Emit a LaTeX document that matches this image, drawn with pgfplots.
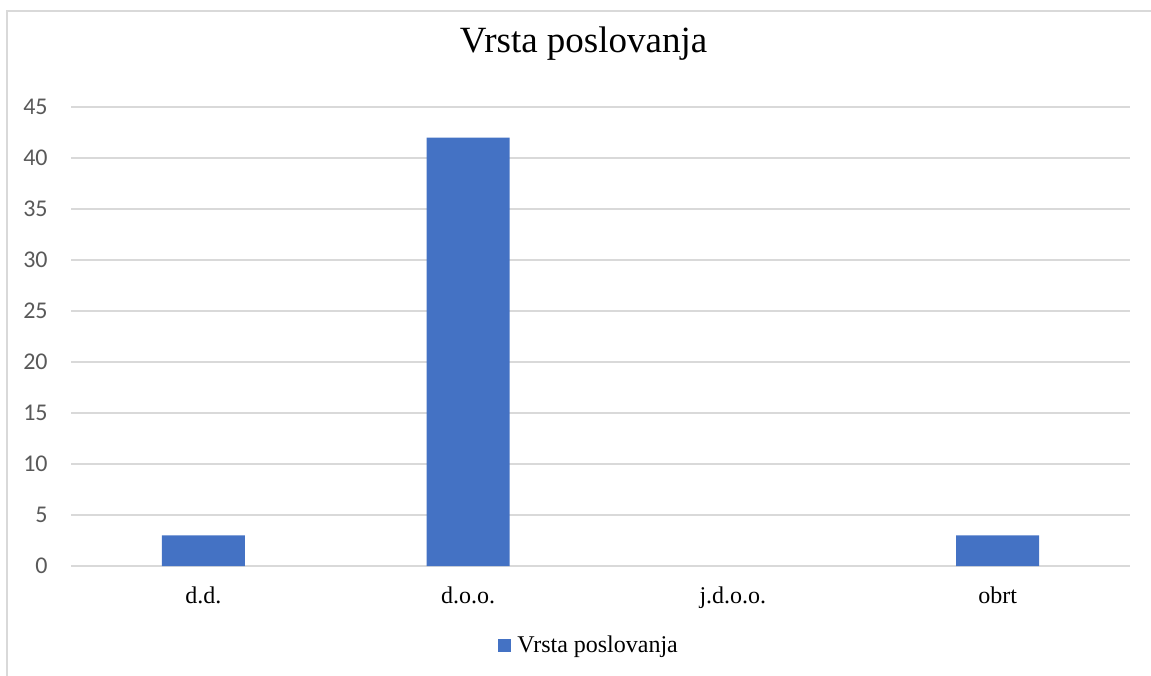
\documentclass[border=0pt]{standalone}
\usepackage{pgfplots}
\pgfplotsset{compat=1.18}
\usepackage{fontspec}
\setmainfont{Liberation Serif}
\newfontfamily\tickfont{Carlito}
\definecolor{barblue}{HTML}{4472C4}
\definecolor{gridgray}{HTML}{D9D9D9}
\definecolor{tickgray}{HTML}{595959}
\begin{document}
\begin{tikzpicture}[x=0.5pt,y=0.5pt]
\useasboundingbox (0,0) rectangle (1151,675);
\draw[gridgray, line width=1pt] (7,-20) -- (7,664) -- (1180,664);
\begin{axis}[
  at={(35.5pt,54.5pt)}, anchor=south west,
  scale only axis, width=529.5pt, height=229.5pt,
  xmin=-0.5, xmax=3.5, ymin=0, ymax=45,
  xtick={0,1,2,3}, xticklabels={d.d.,d.o.o.,j.d.o.o.,obrt},
  ytick={0,5,...,45},
  axis line style={draw=none},
  major tick length=0pt,
  ymajorgrids, grid style={gridgray, line width=0.65pt},
  yticklabel style={font=\tickfont\fontsize{12}{14}\selectfont, text=tickgray, inner sep=0pt, anchor=east, xshift=-11.5pt},
  xticklabel style={font=\fontsize{12}{14}\selectfont, inner sep=0pt, anchor=base, yshift=-18.5pt},
  /pgf/number format/assume math mode=true,
  title={Vrsta poslovanja},
  title style={font=\fontsize{18.5}{22}\selectfont, at={(0.484,1.0915)}, anchor=base, inner sep=0pt},
  legend style={draw=none, at={(0.4032,-0.1732)}, anchor=west, inner sep=0pt, font=\fontsize{12}{14}\selectfont, nodes={inner sep=0pt}},
  legend image code/.code={\fill[barblue] (0pt,-3.25pt) rectangle (6.5pt,3.25pt); \path (9.5pt,0pt);},
]
% j.d.o.o. has value 0 and draws no bar
\addplot[ybar, bar width=41.5pt, fill=barblue, draw=none] coordinates {(0,3) (1,42) (3,3)};
\addlegendentry{Vrsta poslovanja}
\end{axis}
\end{tikzpicture}
\end{document}
